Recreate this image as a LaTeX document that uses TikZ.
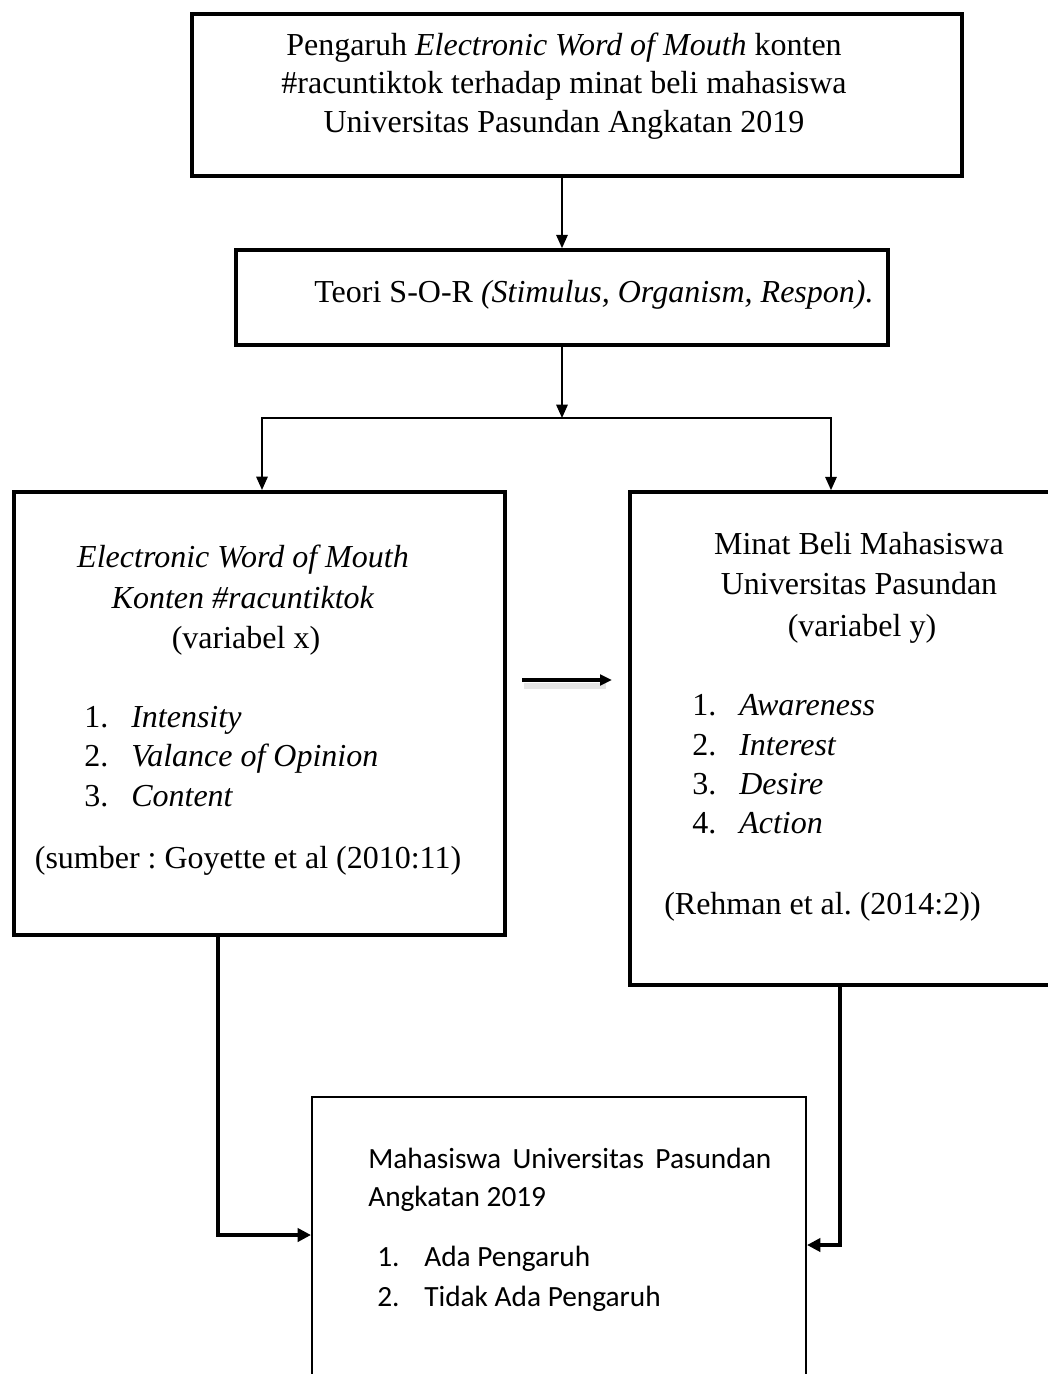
\documentclass[tikz,border=0pt]{standalone}
\usepackage{fontspec}
\setmainfont{Liberation Serif}[ItalicFont={Liberation Serif Italic},BoldFont={Liberation Serif Bold}]
\newfontfamily\calib{Carlito}
\usetikzlibrary{arrows.meta}
\frenchspacing
\begin{document}
\frenchspacing
\begin{tikzpicture}[x=0.75pt,y=-0.75pt,
  box/.style={draw, rectangle, inner sep=0pt},
  tx/.style={inner sep=0pt, font=\frenchspacing\fontsize{24pt}{30pt}\selectfont},
  txc/.style={tx, anchor=base},
  txl/.style={tx, anchor=base west},
  cb/.style={inner sep=0pt, anchor=base west, font=\calib\fontsize{22pt}{28pt}\selectfont},
  thinarr/.style={line width=1.5pt, -{Triangle[length=10pt,width=8.5pt]}},
  thickarr/.style={line width=2.3pt, -{Triangle[length=10pt,width=10pt]}},
  midarr/.style={line width=2.8pt, -{Triangle[length=9pt,width=8pt]}}
]
\useasboundingbox (0,0) rectangle (1048,1374);
\clip (0,0) rectangle (1048,1374);
\fill[white] (0,0) rectangle (1048,1374);

% boxes
\node[box, line width=3pt, minimum width=577.5pt, minimum height=121.5pt] (top) at (577,95) {};
\node[box, line width=2.7pt, minimum width=489pt, minimum height=71.25pt] (sor) at (562,297.5) {};
\node[box, line width=3pt, minimum width=368.25pt, minimum height=332.25pt] (left) at (259.5,713.5) {};
\node[box, line width=2.7pt, minimum width=322.5pt, minimum height=369.75pt] (right) at (845,738.5) {};
\node[box, line width=1.6pt, minimum width=370.5pt, minimum height=227.25pt] (bottom) at (559,1248.5) {};

% top text
\node[txc] (t1) at (564,55) {Pengaruh \textit{Electronic Word of Mouth} konten};
\node[txc] (t2) at (564,93.5) {\#racuntiktok terhadap minat beli mahasiswa};
\node[txc] (t3) at (564,132) {Universitas Pasundan Angkatan 2019};

% SOR text
\node[txc] (s1) at (594,302) {Teori S-O-R \textit{(Stimulus, Organism, Respon).}};

% left text
\node[txc] (l1) at (243,567) {\textit{Electronic Word of Mouth}};
\node[txc] (l2) at (243,608) {\textit{Konten \#racuntiktok}};
\node[txc] (l3) at (246,648) {(variabel x)};
\node[txl] (ln1) at (84,727) {1.};
\node[txl] (li1) at (131,727) {\textit{Intensity}};
\node[txl] (ln2) at (84,766) {2.};
\node[txl] (li2) at (131,766) {\textit{Valance of Opinion}};
\node[txl] (ln3) at (84,806) {3.};
\node[txl] (li3) at (131,806) {\textit{Content}};
\node[txc] (lsrc) at (248,868) {(sumber : Goyette et al (2010:11)};

% right text
\node[txc] (r1) at (859,554) {Minat Beli Mahasiswa};
\node[txc] (r2) at (859,594) {Universitas Pasundan};
\node[txc] (r3) at (862,636) {(variabel y)};
\node[txl] (rn1) at (692,715) {1.};
\node[txl] (ri1) at (739,715) {\textit{Awareness}};
\node[txl] (rn2) at (692,755) {2.};
\node[txl] (ri2) at (739,755) {\textit{Interest}};
\node[txl] (rn3) at (692,794) {3.};
\node[txl] (ri3) at (739,794) {\textit{Desire}};
\node[txl] (rn4) at (692,833) {4.};
\node[txl] (ri4) at (739,833) {\textit{Action}};
\node[txl] (rsrc) at (664,914) {(Rehman et al. (2014:2))};

% bottom text
\node[cb] (b1) at (368,1168) {\makebox[302.25pt][s]{Mahasiswa Universitas Pasundan}};
\node[cb] (b2) at (368,1206) {Angkatan 2019};
\node[cb] (bn1) at (377,1266) {1.};
\node[cb] (bi1) at (424,1266) {Ada Pengaruh};
\node[cb] (bn2) at (377,1306) {2.};
\node[cb] (bi2) at (424,1306) {Tidak Ada Pengaruh};

% connectors
\coordinate (split) at (562,418);
\draw[thinarr] (sor.north |- top.south) -- (sor.north);
\draw[thinarr] (sor.south) -- (split);
\draw[thinarr] (split) -| ([shift={(2.5,0)}]left.north);
\draw[thinarr] (split) -| ([shift={(-14,0)}]right.north);

% middle arrow with soft shadow
\coordinate (ma) at (522,680);
\coordinate (mb) at (612,680);
\draw[line width=4pt, black!10] ([shift={(2,6)}]ma) -- ([shift={(-6,6)}]mb);
\draw[midarr] (ma) -- (mb);

% bottom connectors
\draw[thickarr] ([shift={(-41.5,0)}]left.south) |- ([shift={(0,-13.5)}]bottom.west);
\draw[thickarr] ([shift={(-5,0)}]right.south) |- ([shift={(0,-3.5)}]bottom.east);
\end{tikzpicture}
\end{document}
